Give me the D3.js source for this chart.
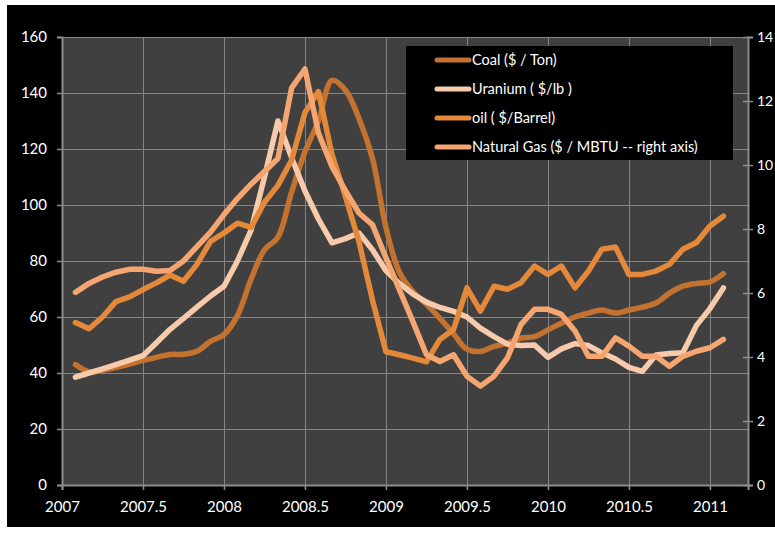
<!DOCTYPE html>
<html>
<head>
<meta charset="utf-8">
<script src="https://cdn.jsdelivr.net/npm/d3@7"></script>
<style>
  body { margin: 0; background: #fff; }
  svg { display: block; }
</style>
</head>
<body>
<div id="chart"></div>
<script>
// monthly observations, decimal years
const months = [2007.083, 2007.167, 2007.25, 2007.333, 2007.417, 2007.5, 2007.583, 2007.667, 2007.75, 2007.833, 2007.917, 2008.0,
  2008.083, 2008.167, 2008.25, 2008.333, 2008.417, 2008.5, 2008.583, 2008.667, 2008.75, 2008.833, 2008.917, 2009.0,
  2009.083, 2009.167, 2009.25, 2009.333, 2009.417, 2009.5, 2009.583, 2009.667, 2009.75, 2009.833, 2009.917, 2010.0,
  2010.083, 2010.167, 2010.25, 2010.333, 2010.417, 2010.5, 2010.583, 2010.667, 2010.75, 2010.833, 2010.917, 2011.0, 2011.083];

const coal = [43, 40.4, 41, 42, 43.2, 44.5, 45.6, 46.6, 46.7, 47.8, 51.3, 53.7,
  60.5, 73.5, 84, 88.5, 104.5, 119, 130, 144.5, 141, 131, 116.5, 92,
  76, 69, 64.5, 59.5, 54, 48.5, 47.7, 49.5, 50.7, 52.5, 53, 55.4,
  57.8, 60, 61.4, 62.5, 61.4, 62.5, 63.5, 65, 68.5, 71, 72, 72.5, 75.5];

const uranium = [38.5, 40, 41.5, 43, 44.6, 46.2, 50.8, 55.6, 59.5, 63.5, 67.5, 71,
  80, 91, 110, 130, 117, 105, 95, 86.5, 88, 90, 84, 76.5,
  72, 68.2, 65.3, 63.4, 62, 60, 56, 53, 50.3, 49.8, 50, 45.6,
  48.6, 50.5, 49.8, 47.2, 45, 42, 40.6, 46.4, 47, 47.2, 57, 63, 70.4];

const oil = [58, 55.8, 60, 65.5, 67.2, 69.8, 72.2, 75, 72.8, 78.8, 87, 90,
  93.5, 92, 101, 107, 116, 133, 140.5, 118, 103, 87, 66, 47.6,
  46.5, 45.3, 44, 52, 55.5, 70.4, 62.1, 71, 69.9, 72.2, 78.2, 75.2,
  78.2, 70.4, 76.4, 84.2, 85, 75.2, 75.2, 76.4, 78.8, 84.2, 86.6, 92.5, 96];

// natural gas, right axis
const gas = [6.02, 6.3, 6.5, 6.65, 6.74, 6.74, 6.68, 6.7, 7.0, 7.45, 7.9, 8.45,
  8.95, 9.4, 9.8, 10.2, 12.4, 13.0, 11.0, 9.95, 9.2, 8.5, 8.13, 7.1,
  6.1, 5.1, 4.07, 3.86, 4.07, 3.4, 3.09, 3.4, 3.97, 5.01, 5.49, 5.49,
  5.33, 4.81, 4.02, 4.02, 4.6, 4.34, 4.02, 4.02, 3.71, 4.02, 4.18, 4.29, 4.55];

const xTicks = [2007, 2007.5, 2008, 2008.5, 2009, 2009.5, 2010, 2010.5, 2011];
const leftTicks = [0, 20, 40, 60, 80, 100, 120, 140, 160];
const rightTicks = [0, 2, 4, 6, 8, 10, 12, 14];

const width = 775, height = 533;
const font = "Lato, 'Open Sans', sans-serif";

const svg = d3.select("#chart").append("svg")
    .attr("width", width)
    .attr("height", height);

svg.append("rect")
    .attr("x", 7).attr("y", 5)
    .attr("width", width - 7).attr("height", 522)
    .attr("fill", "#000");

const x = d3.scaleLinear().domain([2007, 2011.235]).range([62, 748]);
const y = d3.scaleLinear().domain([0, 160]).range([485, 37]);
const y2 = d3.scaleLinear().domain([0, 14]).range([485, 37]);

svg.append("rect")
    .attr("x", x(2007)).attr("y", y(160))
    .attr("width", x.range()[1] - x.range()[0])
    .attr("height", y(0) - y(160))
    .attr("fill", "#404040");

// grid
svg.append("g")
  .selectAll("line.h")
  .data(leftTicks.slice(1))
  .join("line")
    .attr("x1", x.range()[0]).attr("x2", x.range()[1])
    .attr("y1", d => y(d) + 0.5).attr("y2", d => y(d) + 0.5)
    .attr("stroke", "#858585").attr("stroke-width", 1);

svg.append("g")
  .selectAll("line.v")
  .data(xTicks.slice(1))
  .join("line")
    .attr("x1", d => Math.round(x(d)) + 0.5).attr("x2", d => Math.round(x(d)) + 0.5)
    .attr("y1", y(160)).attr("y2", y(0))
    .attr("stroke", "#858585").attr("stroke-width", 1);

// axes
const axisColor = "#8c8c8c";

const xAxis = svg.append("g")
    .attr("transform", `translate(0,${y(0)})`)
    .call(d3.axisBottom(x).tickValues(xTicks).tickFormat(d3.format("")).tickSize(5).tickPadding(11));

const yAxis = svg.append("g")
    .attr("transform", `translate(${x.range()[0]},0)`)
    .call(d3.axisLeft(y).tickValues(leftTicks).tickSize(5).tickPadding(10));

const y2Axis = svg.append("g")
    .attr("transform", `translate(${x.range()[1]},0)`)
    .call(d3.axisRight(y2).tickValues(rightTicks).tickSize(5).tickPadding(4));

[xAxis, yAxis, y2Axis].forEach(g => {
  g.select(".domain").attr("stroke", axisColor).attr("stroke-width", 2);
  g.selectAll(".tick line").attr("stroke", axisColor).attr("stroke-width", 1.5);
  g.selectAll(".tick text")
    .attr("fill", "#fff")
    .style("font-family", font)
    .style("font-size", "15px");
});
y2Axis.selectAll(".tick line").attr("x1", -5);
y2Axis.selectAll(".tick text").style("font-size", "14px");

// lines
const series = [
  { name: "Coal ($ / Ton)", values: coal, scale: y, color: "#C4722F", curve: d3.curveCatmullRom.alpha(0.5) },
  { name: "Uranium ( $/lb )", values: uranium, scale: y, color: "#F8CAAB", curve: d3.curveLinear },
  { name: "oil ( $/Barrel)", values: oil, scale: y, color: "#E4883A", curve: d3.curveLinear },
  { name: "Natural Gas ($ / MBTU -- right axis)", values: gas, scale: y2, color: "#F5A670", curve: d3.curveLinear }
];

series.forEach(s => {
  const line = d3.line()
    .x((d, i) => x(months[i]))
    .y(d => s.scale(d))
    .curve(s.curve);
  svg.append("path")
    .datum(s.values)
    .attr("d", line)
    .attr("fill", "none")
    .attr("stroke", s.color)
    .attr("stroke-width", 5.5)
    .attr("stroke-linejoin", "round")
    .attr("stroke-linecap", "round");
});

// legend
const legend = svg.append("g").attr("transform", "translate(406,46)");
legend.append("rect")
    .attr("width", 327).attr("height", 114)
    .attr("fill", "#000");

const item = legend.selectAll("g.item")
  .data(series)
  .join("g")
    .attr("class", "item")
    .attr("transform", (d, i) => `translate(0,${14 + i * 29})`);

item.append("line")
    .attr("x1", 31).attr("x2", 63)
    .attr("stroke", d => d.color)
    .attr("stroke-width", 5)
    .attr("stroke-linecap", "round");

item.append("text")
    .attr("x", 66)
    .attr("dy", "0.35em")
    .attr("fill", "#fff")
    .style("font-family", font)
    .style("font-size", "14.5px")
    .text(d => d.name);
</script>
</body>
</html>
